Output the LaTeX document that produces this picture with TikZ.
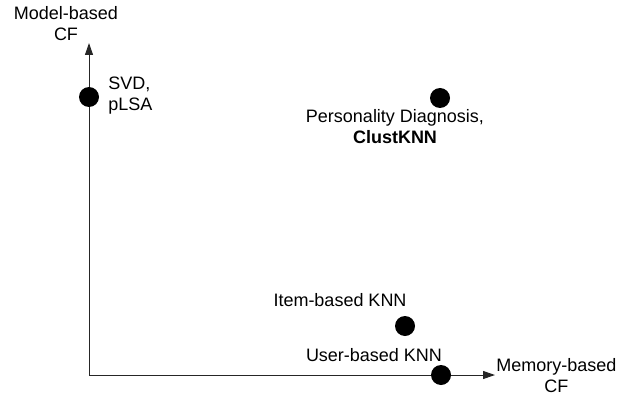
\documentclass[tikz,border=0pt]{standalone}
\usepackage{fontspec}
\setmainfont{Liberation Sans}
\usepackage{tikz}
\usetikzlibrary{arrows.meta}
\tikzstyle{dot} = [circle, fill=black, inner sep=0pt, minimum size=5mm]
\tikzstyle{lbl} = [inner sep=0pt, align=center, font=\fontsize{12.8pt}{15pt}\selectfont]
\tikzstyle{axis} = [line width=0.25mm, draw=black!85, -{Triangle[length=3mm,width=2mm]}]

\begin{document}
\begin{tikzpicture}[x=0.25mm, y=0.25mm]
				\useasboundingbox (0,0) rectangle (639,400);
				
				% Axes
				\coordinate (origin) at (89,25);
				\coordinate (ytip) at (89,357);
				\coordinate (xtip) at (495,25);
				\draw [axis] (origin) -- (ytip);
				\draw [axis] (origin) -- (xtip);
				\node (model) [lbl] at (66,376) {Model-based\\CF};
				\node (memory) [lbl, anchor=west] at (496,24) {Memory-based\\CF};
				
				% Points
				\node (svd) [dot] at (89,303) {};
				\node (pd) [dot] at (440,302) {};
				\node (item) [dot] at (405,74) {};
				\node (user) [dot] at (441,25) {};
				
				% Labels
				\node (svdlbl) [lbl, align=left, anchor=west] at (108,304) {SVD,\\pLSA};
				\node (pdlbl) [lbl] at (395,273) {Personality Diagnosis,\\\textbf{ClustKNN}};
				\node (itemlbl) [lbl] at (340,100) {Item-based KNN};
				\node (userlbl) [lbl] at (374,45) {User-based KNN};
				
			\end{tikzpicture}
\end{document}
